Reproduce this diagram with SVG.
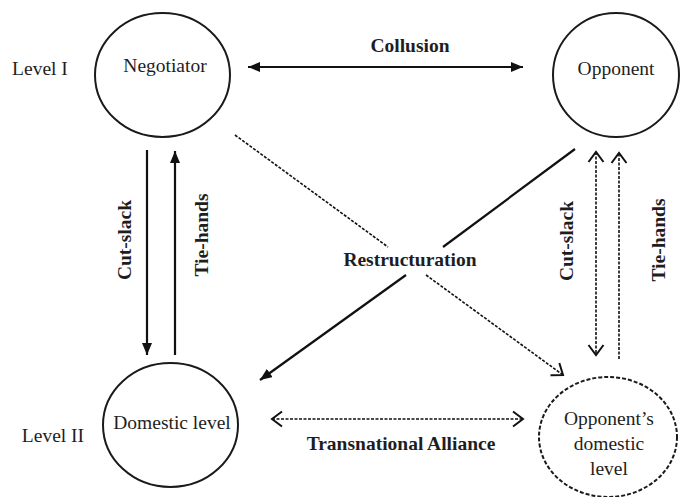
<svg xmlns="http://www.w3.org/2000/svg" width="681" height="497" viewBox="0 0 681 497">
<style>
.node{fill:none;stroke:#1a1a1a;stroke-width:2}
.dnode{fill:none;stroke:#1a1a1a;stroke-width:2;stroke-dasharray:4 2}
.t{font-family:"Liberation Serif","Times New Roman",serif;font-size:19.5px;fill:#1e1e1e;text-anchor:middle}
.b{font-weight:bold}
.solid{stroke:#111;stroke-width:2.2;fill:none}
.dash{stroke:#111;stroke-width:1.6;fill:none;stroke-dasharray:3 1.5}
</style>
<defs>
<marker id="fa" viewBox="0 0 12 10" refX="12" refY="5" markerWidth="12" markerHeight="10" markerUnits="userSpaceOnUse" orient="auto-start-reverse">
<path d="M0,0 L12,5 L0,10 z" fill="#111"/>
</marker>
<marker id="oa" viewBox="0 0 14 18" refX="12" refY="9" markerWidth="14" markerHeight="18" markerUnits="userSpaceOnUse" orient="auto-start-reverse">
<path d="M2,1.5 L12,9 L2,16.5" fill="none" stroke="#111" stroke-width="2"/>
</marker>
</defs>

<text class="t" x="40" y="75">Level I</text>
<text class="t" x="53" y="442">Level II</text>

<g id="negotiator">
<ellipse class="node" cx="162.5" cy="75" rx="67.5" ry="62"/>
<text class="t" x="165" y="72">Negotiator</text>
</g>
<g id="opponent">
<ellipse class="node" cx="616" cy="75" rx="63" ry="62"/>
<text class="t" x="616" y="75">Opponent</text>
</g>
<g id="domestic">
<ellipse class="node" cx="170.5" cy="425" rx="67.5" ry="62"/>
<text class="t" x="172" y="429">Domestic level</text>
</g>
<g id="opponent-domestic">
<ellipse class="dnode" cx="608" cy="437" rx="69" ry="60"/>
<text class="t" x="609" y="425">Opponent’s</text>
<text class="t" x="609" y="450">domestic</text>
<text class="t" x="609" y="475">level</text>
</g>

<g id="connectors">
<line class="solid" x1="248" y1="67" x2="523" y2="67" marker-start="url(#fa)" marker-end="url(#fa)"/>
<line class="solid" x1="147" y1="150" x2="147" y2="355" marker-end="url(#fa)"/>
<line class="solid" x1="175" y1="355" x2="175" y2="151" marker-end="url(#fa)"/>
<line class="solid" x1="575" y1="149" x2="443" y2="247"/>
<line class="solid" x1="406" y1="275" x2="260" y2="380" marker-end="url(#fa)"/>
<line class="dash" x1="235" y1="135" x2="388" y2="247"/>
<line class="dash" x1="426" y1="275" x2="563" y2="375" marker-end="url(#oa)"/>
<line class="dash" x1="596" y1="152" x2="596" y2="355" marker-start="url(#oa)" marker-end="url(#oa)"/>
<line class="dash" x1="619" y1="359" x2="619" y2="153" marker-end="url(#oa)"/>
<line class="dash" x1="272" y1="419" x2="523" y2="419" marker-start="url(#oa)" marker-end="url(#oa)"/>
</g>

<g id="labels">
<text class="t b" x="410" y="52">Collusion</text>
<text class="t b" x="410" y="266">Restructuration</text>
<text class="t b" x="401" y="450">Transnational Alliance</text>
<text class="t b" transform="translate(131,240) rotate(-90)">Cut-slack</text>
<text class="t b" transform="translate(208,235) rotate(-90)">Tie-hands</text>
<text class="t b" transform="translate(573,241) rotate(-90)">Cut-slack</text>
<text class="t b" transform="translate(665,240) rotate(-90)">Tie-hands</text>
</g>
</svg>
